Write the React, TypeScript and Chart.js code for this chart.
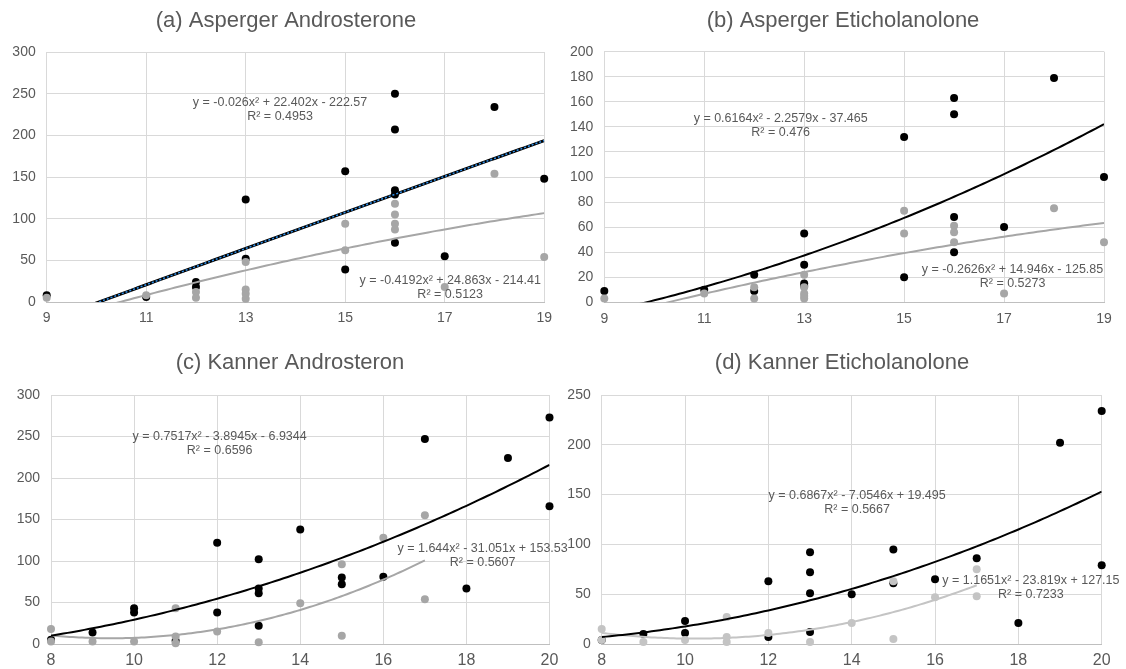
import React, { useEffect, useRef } from "react";
import { Chart, registerables } from "chart.js";

Chart.register(...registerables);

// ---------- (a) Asperger Androsterone ----------
const aBlackX = [9, 11, 12, 12, 13, 13, 15, 15, 16, 16, 16, 16, 16, 17, 18, 19];
const aBlackY = [8, 6, 24, 18, 123, 52, 157, 39, 250, 207, 134, 129, 71, 55, 234, 148];
const aGrayX = [9, 11, 12, 12, 13, 13, 13, 13, 15, 15, 16, 16, 16, 16, 17, 18, 19];
const aGrayY = [5, 8, 12, 5, 48, 15, 10, 4, 94, 62, 118, 105, 94, 87, 18, 154, 54];
const aBlackFit = [-0.026, 22.402, -222.57];
const aGrayFit = [-0.4192, 24.863, -214.41];
const aBlackEq = ["y = -0.026x² + 22.402x - 222.57", "R² = 0.4953"];
const aGrayEq = ["y = -0.4192x² + 24.863x - 214.41", "R² = 0.5123"];

// ---------- (b) Asperger Eticholanolone ----------
const bBlackX = [9, 11, 12, 12, 13, 13, 13, 13, 15, 15, 16, 16, 16, 16, 17, 18, 19];
const bBlackY = [9, 10, 22, 9, 55, 30, 15, 13, 132, 20, 163, 150, 68, 40, 60, 179, 100];
const bGrayX = [9, 11, 12, 12, 13, 13, 13, 13, 13, 15, 15, 16, 16, 16, 17, 18, 19];
const bGrayY = [3, 7, 12, 3, 22, 12, 7, 5, 3, 73, 55, 61, 56, 48, 7, 75, 48];
const bBlackFit = [0.6164, -2.2579, -37.465];
const bGrayFit = [-0.2626, 14.946, -125.85];
const bBlackEq = ["y = 0.6164x² - 2.2579x - 37.465", "R² = 0.476"];
const bGrayEq = ["y = -0.2626x² + 14.946x - 125.85", "R² = 0.5273"];

// ---------- (c) Kanner Androsteron ----------
const cBlackX = [8, 9, 10, 10, 11, 12, 12, 13, 13, 13, 13, 14, 15, 15, 16, 17, 18, 19, 20, 20];
const cBlackY = [5, 14, 43, 38, 4, 122, 38, 102, 67, 61, 22, 138, 80, 72, 81, 247, 67, 224, 273, 166];
const cGrayX = [8, 8, 9, 10, 11, 11, 11, 12, 13, 14, 15, 15, 16, 17, 17];
const cGrayY = [18, 3, 3, 3, 43, 9, 1, 15, 2, 49, 96, 10, 128, 155, 54];
const cBlackFit = [0.7517, -3.8945, -6.9344];
const cGrayFit = [1.644, -31.051, 153.53];
const cBlackEq = ["y = 0.7517x² - 3.8945x - 6.9344", "R² = 0.6596"];
const cGrayEq = ["y = 1.644x² - 31.051x + 153.53", "R² = 0.5607"];

// ---------- (d) Kanner Eticholanolone ----------
const dBlackX = [8, 9, 10, 10, 12, 12, 13, 13, 13, 13, 14, 15, 15, 16, 17, 18, 19, 20, 20];
const dBlackY = [4, 10, 23, 11, 63, 7, 92, 72, 51, 12, 50, 95, 61, 65, 86, 21, 202, 234, 79];
const dGrayX = [8, 8, 9, 10, 11, 11, 11, 12, 13, 14, 15, 15, 16, 17, 17];
const dGrayY = [15, 4, 2, 4, 27, 7, 2, 11, 2, 21, 63, 5, 47, 75, 48];
const dBlackFit = [0.6867, -7.0546, 19.495];
const dGrayFit = [1.1651, -23.819, 127.15];
const dBlackEq = ["y = 0.6867x² - 7.0546x + 19.495", "R² = 0.5667"];
const dGrayEq = ["y = 1.1651x² - 23.819x + 127.15", "R² = 0.7233"];

const FONT = "'Liberation Sans', Arial, sans-serif";
const TEXT = "#595959";

function pts(xs: number[], ys: number[]) {
  return xs.map((x, i) => ({ x, y: ys[i] }));
}

// trendline drawn from the printed polynomial coefficients
function curve(c: number[], x0: number, x1: number) {
  const out: { x: number; y: number }[] = [];
  const n = 120;
  for (let i = 0; i <= n; i++) {
    const x = x0 + ((x1 - x0) * i) / n;
    out.push({ x, y: c[0] * x * x + c[1] * x + c[2] });
  }
  return out;
}

type Label = { x: number; y: number; lines: string[] };

type PanelDef = {
  left: number;
  top: number;
  width: number;
  height: number;
  area: { left: number; right: number; top: number; bottom: number };
  title: string;
  titleX: number;
  titleY: number;
  xMin: number;
  xMax: number;
  yMax: number;
  yStep: number;
  xFont: number;
  xPad: number;
  datasets: any[];
  labels: Label[];
};

function scatterSet(data: any[], color: string, order: number) {
  return {
    type: "scatter",
    data,
    backgroundColor: color,
    borderColor: color,
    pointRadius: 4,
    pointHoverRadius: 4,
    borderWidth: 0,
    order,
    clip: false,
  };
}

function lineSet(data: any[], color: string, width: number, order: number, dash?: number[]) {
  return {
    type: "line",
    data,
    borderColor: color,
    backgroundColor: color,
    borderWidth: width,
    pointRadius: 0,
    showLine: true,
    fill: false,
    tension: 0,
    order,
    borderDash: dash || [],
  };
}

const GRAY = "#a6a6a6";
const LIGHT = "#c4c4c4";

const panels: PanelDef[] = [
  {
    left: 0,
    top: 0,
    width: 560,
    height: 330,
    area: { left: 46.7, right: 546.7, top: 52, bottom: 302 },
    title: "(a) Asperger Androsterone",
    titleX: 286,
    titleY: 21,
    xMin: 9,
    xMax: 19,
    yMax: 300,
    yStep: 50,
    xFont: 14,
    xPad: 8,
    datasets: [
      lineSet(curve(aBlackFit, 9, 19), "#000000", 3, 1),
      lineSet(curve(aBlackFit, 9, 19), "#2f8fe8", 1.5, 0, [2, 2]),
      lineSet(curve(aGrayFit, 9, 19), GRAY, 2, 2),
      scatterSet(pts(aGrayX, aGrayY), GRAY, 3),
      scatterSet(pts(aBlackX, aBlackY), "#000000", 4),
    ],
    labels: [
      { x: 13.69, y: 239, lines: aBlackEq },
      { x: 17.11, y: 25.2, lines: aGrayEq },
    ],
  },
  {
    left: 560,
    top: 0,
    width: 566,
    height: 330,
    area: { left: 44.3, right: 544, top: 51.7, bottom: 302.3 },
    title: "(b) Asperger Eticholanolone",
    titleX: 283,
    titleY: 21,
    xMin: 9,
    xMax: 19,
    yMax: 200,
    yStep: 20,
    xFont: 14,
    xPad: 8,
    datasets: [
      lineSet(curve(bBlackFit, 9, 19), "#000000", 2, 1),
      lineSet(curve(bGrayFit, 9, 19), GRAY, 2, 2),
      scatterSet(pts(bGrayX, bGrayY), GRAY, 3),
      scatterSet(pts(bBlackX, bBlackY), "#000000", 4),
    ],
    labels: [
      { x: 12.53, y: 146.3, lines: bBlackEq },
      { x: 17.17, y: 26.3, lines: bGrayEq },
    ],
  },
  {
    left: 0,
    top: 330,
    width: 576,
    height: 339,
    area: { left: 51, right: 549.5, top: 65, bottom: 314 },
    title: "(c) Kanner Androsteron",
    titleX: 290,
    titleY: 33,
    xMin: 8,
    xMax: 20,
    yMax: 300,
    yStep: 50,
    xFont: 16,
    xPad: 7,
    datasets: [
      lineSet(curve(cBlackFit, 8, 20), "#000000", 2, 1),
      lineSet(curve(cGrayFit, 8, 17), GRAY, 2, 2),
      scatterSet(pts(cGrayX, cGrayY), GRAY, 3),
      scatterSet(pts(cBlackX, cBlackY), "#000000", 4),
    ],
    labels: [
      { x: 12.06, y: 249.8, lines: cBlackEq },
      { x: 18.39, y: 115.3, lines: cGrayEq },
    ],
  },
  {
    left: 560,
    top: 330,
    width: 566,
    height: 339,
    area: { left: 41.7, right: 541.7, top: 65, bottom: 314 },
    title: "(d) Kanner Eticholanolone",
    titleX: 282,
    titleY: 33,
    xMin: 8,
    xMax: 20,
    yMax: 250,
    yStep: 50,
    xFont: 16,
    xPad: 7,
    datasets: [
      lineSet(curve(dBlackFit, 8, 20), "#000000", 2, 1),
      lineSet(curve(dGrayFit, 8, 17), LIGHT, 2, 2),
      scatterSet(pts(dGrayX, dGrayY), LIGHT, 3),
      scatterSet(pts(dBlackX, dBlackY), "#000000", 4),
    ],
    labels: [
      { x: 14.13, y: 148.6, lines: dBlackEq },
      { x: 18.3, y: 63.6, lines: dGrayEq },
    ],
  },
];

function Panel({ p }: { p: PanelDef }) {
  const ref = useRef<HTMLCanvasElement | null>(null);
  useEffect(() => {
    if (!ref.current) return;
    const xAxisH = 24;
    const textPlugin = {
      id: "panelText",
      afterDatasetsDraw(chart: any) {
        const ctx = chart.ctx;
        const xs = chart.scales.x;
        const ys = chart.scales.y;
        ctx.save();
        ctx.fillStyle = TEXT;
        ctx.textAlign = "center";
        ctx.textBaseline = "middle";
        ctx.font = `12.5px ${FONT}`;
        p.labels.forEach((l) => {
          const px = xs.getPixelForValue(l.x);
          const py = ys.getPixelForValue(l.y);
          l.lines.forEach((t, i) => ctx.fillText(t, px, py + i * 14));
        });
        ctx.font = `22px ${FONT}`;
        ctx.fillText(p.title, p.titleX, p.titleY);
        ctx.restore();
      },
    };
    const chart = new Chart(ref.current, {
      type: "scatter",
      data: { datasets: p.datasets as any },
      plugins: [textPlugin],
      options: {
        responsive: false,
        animation: false,
        devicePixelRatio: 1,
        layout: {
          padding: {
            left: 0,
            right: p.width - p.area.right,
            top: p.area.top,
            bottom: p.height - p.area.bottom - xAxisH,
          },
        },
        plugins: {
          legend: { display: false },
          tooltip: { enabled: false },
          title: { display: false },
        },
        scales: {
          x: {
            type: "linear",
            min: p.xMin,
            max: p.xMax,
            afterFit: (s: any) => {
              s.height = xAxisH;
            },
            ticks: {
              stepSize: 2,
              color: TEXT,
              font: { family: FONT, size: p.xFont },
              padding: p.xPad,
              maxRotation: 0,
            },
            grid: { color: "#d9d9d9", lineWidth: 1, drawTicks: false },
            border: { display: true, color: "#bfbfbf", width: 1 },
          },
          y: {
            type: "linear",
            min: 0,
            max: p.yMax,
            afterFit: (s: any) => {
              s.width = p.area.left;
            },
            ticks: {
              stepSize: p.yStep,
              color: TEXT,
              font: { family: FONT, size: 14 },
              padding: 11,
            },
            grid: { color: "#d9d9d9", lineWidth: 1, drawTicks: false },
            border: { display: false },
          },
        },
      } as any,
    });
    return () => chart.destroy();
  }, [p]);
  return (
    <canvas
      ref={ref}
      width={p.width}
      height={p.height}
      style={{
        position: "absolute",
        left: p.left,
        top: p.top,
        width: p.width,
        height: p.height,
      }}
    />
  );
}

export default function App() {
  return (
    <div
      style={{
        position: "absolute",
        left: 0,
        top: 0,
        width: 1126,
        height: 669,
        background: "#ffffff",
        overflow: "hidden",
      }}
    >
      {panels.map((p, i) => (
        <Panel key={i} p={p} />
      ))}
    </div>
  );
}
